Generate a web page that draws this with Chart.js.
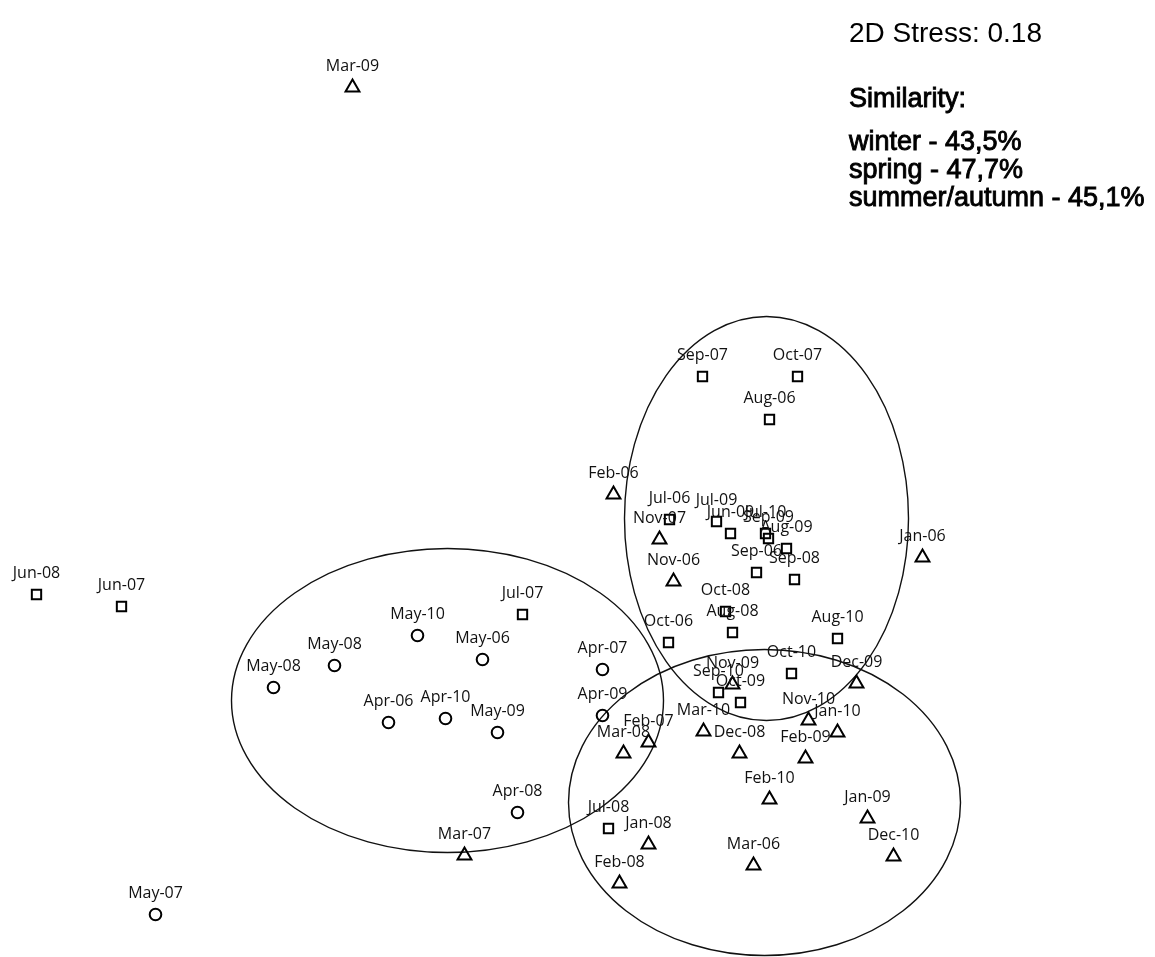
<!DOCTYPE html>
<html>
<head>
<meta charset="utf-8">
<script src="https://cdn.jsdelivr.net/npm/chart.js@4.4.0/dist/chart.umd.min.js"></script>
<style>
  html, body { margin: 0; padding: 0; background: #fff; }
  #wrap { width: 1155px; height: 957px; position: relative; }
</style>
</head>
<body>
<div id="wrap"><canvas id="mdsChart"></canvas></div>
<script>
// nMDS ordination of monthly samples, grouped by season

const winterLabels = ['Mar-09', 'Feb-06', 'Nov-07', 'Nov-06', 'Jan-06', 'Nov-09', 'Dec-09', 'Nov-10', 'Jan-10', 'Mar-10',
    'Feb-07', 'Mar-08', 'Dec-08', 'Feb-09', 'Feb-10', 'Jan-09', 'Jan-08', 'Dec-10', 'Mar-07', 'Mar-06', 'Feb-08'];
const winterX = [-2.25, 0.36, 0.82, 0.96, 3.45, 1.55, 2.79, 2.31, 2.60, 1.26,
    0.71, 0.46, 1.62, 2.28, 1.92, 2.90, 0.71, 3.16, -1.13, 1.76, 0.42];
const winterY = [3.91, -0.16, -0.61, -1.03, -0.79, -2.06, -2.05, -2.42, -2.54, -2.53,
    -2.64, -2.75, -2.75, -2.80, -3.21, -3.40, -3.66, -3.78, -3.77, -3.87, -4.05];

const springLabels = ['May-07', 'May-08', 'May-08', 'May-10', 'May-06', 'Apr-06', 'Apr-10', 'May-09', 'Apr-07', 'Apr-09', 'Apr-08'];
const springX = [-4.22, -3.04, -2.43, -1.60, -0.95, -1.89, -1.32, -0.80, 0.25, 0.25, -0.60];
const springY = [-4.36, -2.09, -1.87, -1.57, -1.81, -2.44, -2.40, -2.54, -1.91, -2.37, -3.34];

const summerLabels = ['Jun-08', 'Jun-07', 'Jul-07', 'Sep-07', 'Oct-07', 'Aug-06', 'Jul-06', 'Jul-09', 'Jun-09', 'Jul-10', 'Sep-09',
    'Aug-09', 'Sep-06', 'Sep-08', 'Oct-08', 'Aug-08', 'Oct-06', 'Aug-10', 'Oct-10', 'Sep-10', 'Oct-09', 'Jul-08'];
const summerX = [-5.41, -4.56, -0.55, 1.25, 2.20, 1.92, 0.92, 1.39, 1.53, 1.88, 1.91,
    2.09, 1.79, 2.17, 1.48, 1.55, 0.91, 2.60, 2.14, 1.41, 1.63, 0.31];
const summerY = [-1.16, -1.28, -1.36, 1.02, 1.02, 0.59, -0.41, -0.43, -0.55, -0.55, -0.60,
    -0.70, -0.94, -1.01, -1.33, -1.54, -1.64, -1.60, -1.95, -2.14, -2.24, -3.50];

// cluster outlines: centre x, centre y, half-width, half-height
const groupNames = ['spring', 'summer/autumn', 'winter'];
const groupCx = [-1.30, 1.89, 1.87];
const groupCy = [-2.22, -0.40, -3.24];
const groupRx = [2.16, 1.42, 1.96];
const groupRy = [1.52, 2.02, 1.53];

const stressText = '2D Stress: 0.18';
const similarityTitle = 'Similarity:';
const similarityLines = ['winter - 43,5%', 'spring - 47,7%', 'summer/autumn - 45,1%'];

function toPoints(xs, ys) {
    return xs.map((x, i) => ({x: x, y: ys[i]}));
}

const ellipsePlugin = {
    id: 'groupEllipses',
    beforeDatasetsDraw(chart) {
        const {ctx, scales} = chart;
        const {x, y} = scales;
        ctx.save();
        ctx.strokeStyle = '#111';
        ctx.lineWidth = 1.4;
        for (let i = 0; i < groupNames.length; i++) {
            const px = x.getPixelForValue(groupCx[i]);
            const py = y.getPixelForValue(groupCy[i]);
            const rx = Math.abs(x.getPixelForValue(groupCx[i] + groupRx[i]) - px);
            const ry = Math.abs(y.getPixelForValue(groupCy[i] + groupRy[i]) - py);
            ctx.beginPath();
            ctx.ellipse(px, py, rx, ry, 0, 0, Math.PI * 2);
            ctx.stroke();
        }
        ctx.restore();
    }
};

const labelPlugin = {
    id: 'sampleLabels',
    afterDatasetsDraw(chart) {
        const ctx = chart.ctx;
        ctx.save();
        ctx.font = '16px "Open Sans"';
        ctx.fillStyle = '#111';
        ctx.textAlign = 'center';
        ctx.textBaseline = 'middle';
        chart.data.datasets.forEach((ds, di) => {
            const meta = chart.getDatasetMeta(di);
            meta.data.forEach((pt, i) => {
                ctx.fillText(ds.names[i], pt.x, pt.y - 21);
            });
        });
        ctx.restore();
    }
};

const notePlugin = {
    id: 'stressNote',
    afterDraw(chart) {
        const ctx = chart.ctx;
        const left = chart.width - 306;
        ctx.save();
        ctx.fillStyle = '#000';
        ctx.strokeStyle = '#000';
        ctx.textAlign = 'left';
        ctx.textBaseline = 'alphabetic';
        ctx.font = '28px "Liberation Sans", Arial';
        ctx.fillText(stressText, left, 42);
        // the similarity block is set a little heavier than the stress line
        ctx.font = '27px "Liberation Sans", Arial';
        ctx.lineWidth = 0.9;
        const lines = [[similarityTitle, 107]].concat(similarityLines.map((t, i) => [t, 150 + i * 28]));
        lines.forEach(([t, yy]) => {
            ctx.fillText(t, left, yy);
            ctx.strokeText(t, left, yy);
        });
        ctx.restore();
    }
};

const markerStyle = {
    pointBackgroundColor: 'rgba(0,0,0,0)',
    pointBorderColor: '#000',
    pointBorderWidth: 2,
    showLine: false
};

const data = {
    datasets: [
        Object.assign({label: 'winter', names: winterLabels, data: toPoints(winterX, winterY),
            pointStyle: 'triangle', pointRadius: 8}, markerStyle),
        Object.assign({label: 'spring', names: springLabels, data: toPoints(springX, springY),
            pointStyle: 'circle', pointRadius: 5.8}, markerStyle),
        Object.assign({label: 'summer/autumn', names: summerLabels, data: toPoints(summerX, summerY),
            pointStyle: 'rect', pointRadius: 6.6}, markerStyle)
    ]
};

const mdsConfig = {
    type: 'scatter',
    data,
    options: {
        responsive: true,
        maintainAspectRatio: false,
        animation: false,
        events: [],
        layout: {padding: 0, autoPadding: false},
        plugins: {
            legend: {display: false},
            tooltip: {enabled: false}
        },
        scales: {
            x: {type: 'linear', min: -5.775, max: 5.775, display: false},
            y: {type: 'linear', min: -4.785, max: 4.785, display: false}
        }
    },
    plugins: [ellipsePlugin, labelPlugin, notePlugin]
};

const mdsChart = new Chart(document.getElementById('mdsChart'), mdsConfig);
</script>
</body>
</html>
